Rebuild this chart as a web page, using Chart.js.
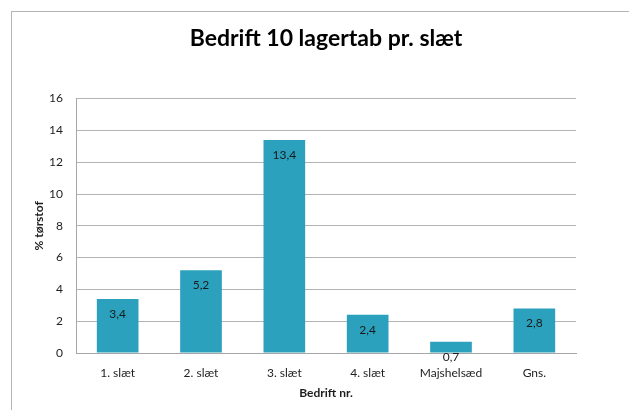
<!DOCTYPE html>
<html>
<head>
<meta charset="utf-8">
<script src="https://cdn.jsdelivr.net/npm/chart.js@4.4.1/dist/chart.umd.min.js"></script>
<style>
    body { margin: 0; background: #fff; overflow: hidden; }
    #ramme { position: absolute; left: 11px; top: 11px; width: 640px; height: 420px; border: 1px solid #b4b4b4; }
    #wrap { position: absolute; left: 0; top: 0; width: 629px; height: 410px; }
</style>
</head>
<body>
<div id="ramme"></div>
<div id="wrap"><canvas id="lagertabChart" width="629" height="410"></canvas></div>
<script>
// Data
const kategorier = ['1. slæt', '2. slæt', '3. slæt', '4. slæt', 'Majshelsæd', 'Gns.'];
const lagertab = [3.4, 5.2, 13.4, 2.4, 0.7, 2.8];
const yTicks = [0, 2, 4, 6, 8, 10, 12, 14, 16];

const skrift = 'Lato, "Open Sans", sans-serif';

// Værdier inde i søjlerne, lidt under toppen
const vaerdiEtiketter = {
    id: 'vaerdiEtiketter',
    afterDatasetsDraw(chart) {
        const ctx = chart.ctx;
        const meta = chart.getDatasetMeta(0);
        ctx.save();
        ctx.font = '12px ' + skrift;
        ctx.fillStyle = '#1a1a1a';
        ctx.textAlign = 'center';
        ctx.textBaseline = 'middle';
        meta.data.forEach((bar, i) => {
            const tekst = lagertab[i].toFixed(1).replace('.', ',');
            ctx.fillText(tekst, bar.x, bar.y + 15);
        });
        ctx.restore();
    }
};

// Titlen står lidt til højre for midten i originalen
const flytTitel = {
    id: 'flytTitel',
    afterLayout(chart) {
        const t = chart.titleBlock;
        if (t) {
            t.left += 22;
            t.right += 22;
        }
    }
};

const ctx = document.getElementById('lagertabChart').getContext('2d');
new Chart(ctx, {
    type: 'bar',
    data: {
        labels: kategorier,
        datasets: [{
            label: 'Lagertab',
            data: lagertab,
            backgroundColor: '#2ba1bd',
            borderWidth: 0,
            barPercentage: 1,
            categoryPercentage: 0.5
        }]
    },
    options: {
        responsive: false,
        animation: false,
        layout: {
            padding: { left: 32, right: 53, top: 0, bottom: 10 }
        },
        plugins: {
            legend: { display: false },
            tooltip: { enabled: false },
            title: {
                display: true,
                text: 'Bedrift 10 lagertab pr. slæt',
                color: '#000',
                font: { family: skrift, size: 23, weight: 'bold' },
                padding: { top: 25, bottom: 46 }
            }
        },
        scales: {
            x: {
                afterFit(scale) {
                    scale.height = 47;
                },
                grid: { display: false, drawTicks: false },
                border: { color: '#a6a6a6' },
                ticks: {
                    color: '#1e1e1e',
                    font: { family: skrift, size: 12 },
                    padding: 13,
                    maxRotation: 0
                },
                title: {
                    display: true,
                    text: 'Bedrift nr.',
                    color: '#1e1e1e',
                    font: { family: skrift, size: 12, weight: 'bold' },
                    padding: { top: 0, bottom: 0 }
                }
            },
            y: {
                min: 0,
                max: 16,
                afterBuildTicks(scale) {
                    scale.ticks = yTicks.map(v => ({ value: v }));
                },
                afterFit(scale) {
                    scale.width = 44;
                },
                grid: { color: '#b4b4b4', drawTicks: false },
                border: { color: '#a6a6a6' },
                ticks: {
                    color: '#1e1e1e',
                    font: { family: skrift, size: 12 },
                    padding: 13
                },
                title: {
                    display: true,
                    text: '% tørstof',
                    color: '#1e1e1e',
                    font: { family: skrift, size: 12, weight: 'bold' },
                    padding: { top: 0, bottom: 0 }
                }
            }
        }
    },
    plugins: [vaerdiEtiketter, flytTitel]
});
</script>
</body>
</html>
